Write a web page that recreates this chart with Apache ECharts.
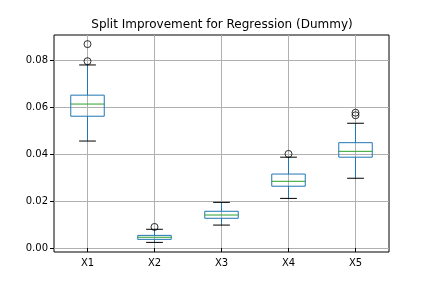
<!DOCTYPE html>
<html><head><meta charset="utf-8">
<script src="https://cdn.jsdelivr.net/npm/echarts@6/dist/echarts.min.js"></script>
<style>html,body{margin:0;padding:0;background:#fff}#c{width:432px;height:288px}</style>
</head><body><div id="c"></div>
<script>
const categories = ['X1','X2','X3','X4','X5'];
// [lowerWhisker, Q1, median, Q3, upperWhisker]
const boxX1 = [0.0457, 0.0563, 0.0615, 0.0653, 0.0782];
const boxX2 = [0.0024, 0.0037, 0.0046, 0.0054, 0.0080];
const boxX3 = [0.0098, 0.0127, 0.0141, 0.0157, 0.0195];
const boxX4 = [0.0212, 0.0264, 0.0285, 0.0316, 0.0388];
const boxX5 = [0.0298, 0.0388, 0.0413, 0.0450, 0.0533];
const outliersX1 = [0.0871, 0.0798];
const outliersX2 = [0.0090];
const outliersX3 = [];
const outliersX4 = [0.0402];
const outliersX5 = [0.0578, 0.0567];
const yTicks = [0, 0.02, 0.04, 0.06, 0.08];
const xTicks = [1, 2, 3, 4, 5];

const boxes = [boxX1, boxX2, boxX3, boxX4, boxX5];
const outs = [outliersX1, outliersX2, outliersX3, outliersX4, outliersX5];
const boxData = boxes.map((b, i) => [i + 1].concat(b));
const outData = [];
outs.forEach((o, i) => o.forEach(v => outData.push([i + 1, v])));

const chart = echarts.init(document.getElementById('c'), null, {renderer: 'canvas'});
const font = 'DejaVu Sans';
chart.setOption({
  animation: false,
  backgroundColor: '#fff',
  title: {text: 'Split Improvement for Regression (Dummy)', left: 217, textAlign: 'center', top: 14,
    textStyle: {fontFamily: font, fontSize: 12, fontWeight: 'normal', color: '#000'}},
  grid: {left: 54, right: 43, top: 35, bottom: 36, show: true, borderColor: '#000', borderWidth: 1, backgroundColor: 'transparent'},
  xAxis: {type: 'value', min: 0.5, max: 5.5,
    axisLine: {show: false},
    axisTick: {show: true, length: 4, lineStyle: {color: '#000'}, customValues: xTicks},
    axisLabel: {customValues: xTicks, formatter: v => categories[Math.round(v) - 1] || '', fontFamily: font, fontSize: 10, color: '#000', margin: 6},
    splitLine: {show: true, lineStyle: {color: '#b0b0b0', width: 1}}
  },
  yAxis: {type: 'value', min: -0.0017, max: 0.091,
    axisLine: {show: false},
    axisTick: {show: true, length: 4, lineStyle: {color: '#000'}, customValues: yTicks},
    axisLabel: {customValues: yTicks, formatter: v => v.toFixed(2), fontFamily: font, fontSize: 10, color: '#000', margin: 6},
    splitLine: {show: true, lineStyle: {color: '#b0b0b0', width: 1}}
  },
  series: [
    {type: 'custom', data: boxData, z: 3,
      renderItem: function (params, api) {
        const x = api.value(0);
        const lo = api.value(1), q1 = api.value(2), med = api.value(3), q3 = api.value(4), hi = api.value(5);
        const p = (xx, yy) => api.coord([xx, yy]);
        const hw = 0.25, cw = 0.125;
        const blue = '#1f77b4';
        const blk = '#000';
        const line = (a, b, color) => ({type: 'line', shape: {x1: a[0], y1: a[1], x2: b[0], y2: b[1]}, style: {stroke: color, lineWidth: 1}});
        const tl = p(x - hw, q3), br = p(x + hw, q1);
        return {type: 'group', children: [
          line(p(x, q3), p(x, hi), blue),
          line(p(x, q1), p(x, lo), blue),
          line(p(x - cw, hi), p(x + cw, hi), blk),
          line(p(x - cw, lo), p(x + cw, lo), blk),
          {type: 'rect', shape: {x: tl[0], y: tl[1], width: br[0] - tl[0], height: br[1] - tl[1]}, style: {fill: 'none', stroke: blue, lineWidth: 1}},
          line(p(x - hw, med), p(x + hw, med), '#2ca02c')
        ]};
      }
    },
    {type: 'scatter', data: outData, symbol: 'circle', symbolSize: 7, z: 4,
      itemStyle: {color: 'transparent', borderColor: '#000', borderWidth: 1}}
  ]
});
</script></body></html>
